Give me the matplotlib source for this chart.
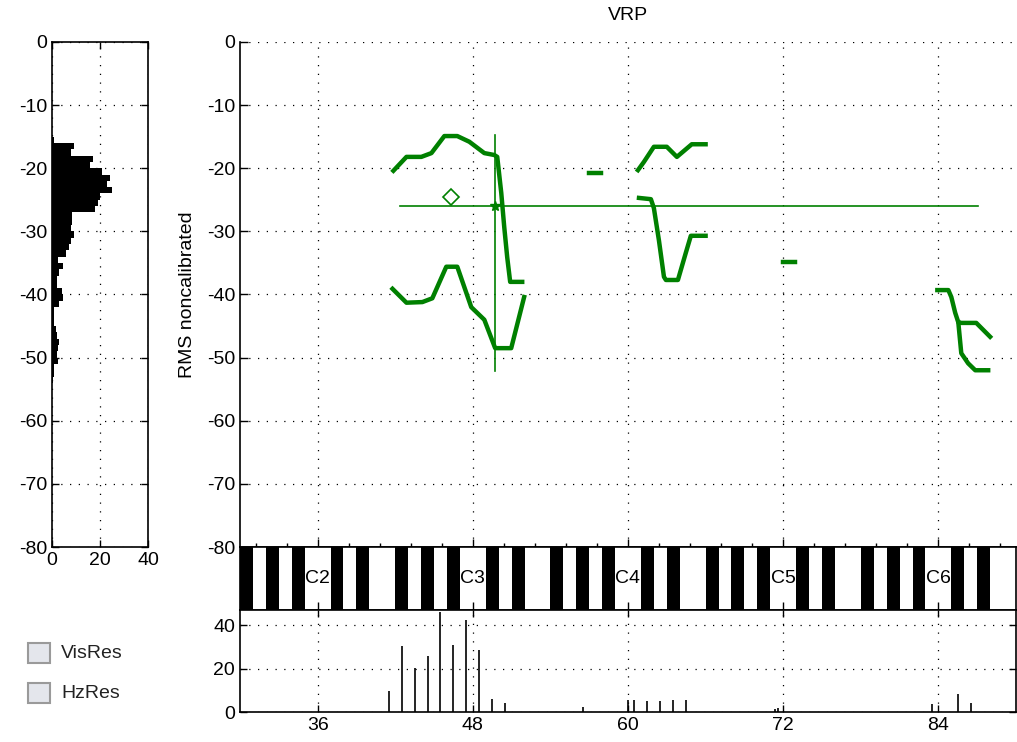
import numpy as np
import matplotlib.pyplot as plt
from matplotlib.ticker import MultipleLocator

plt.rcParams['font.family'] = ['Liberation Sans', 'DejaVu Sans']
plt.rcParams['font.size'] = 14
plt.rcParams['axes.unicode_minus'] = False

# level histogram (left panel), 1 dB bins, top edge of each bin
lvl_top = np.arange(-15, -54, -1)
lvl_count = [1, 9, 8, 17, 16, 21, 24, 23, 25, 20, 19, 18, 8.5, 8.5, 8, 9, 8, 7, 6,
             2.5, 4.5, 3, 2, 2, 4, 4.5, 3, 1, 1, 1, 1.5, 2, 3, 2.5, 2, 2.5, 1, 1, 0.5]

# VRP contours (semitone, dB)
up1_x = [41.86, 42.87, 44.02, 44.80, 45.80, 46.80, 47.73, 48.89, 49.66, 49.89, 50.20, 50.43, 50.66, 50.89, 51.82]
up1_y = [-20.4, -18.2, -18.2, -17.6, -14.9, -14.9, -15.8, -17.6, -17.9, -18.2, -23.9, -29.3, -34.1, -38.0, -38.0]
lo1_x = [41.79, 42.87, 44.10, 44.87, 45.95, 46.80, 47.88, 48.89, 49.73, 50.97, 51.97]
lo1_y = [-39.1, -41.3, -41.2, -40.6, -35.6, -35.6, -42.0, -44.0, -48.5, -48.5, -40.4]
dash1_x = [57.0, 57.9]
dash1_y = [-20.7, -20.7]
up2_x = [60.77, 61.23, 62.0, 63.0, 63.78, 64.93, 66.0]
up2_y = [-20.3, -19.0, -16.6, -16.6, -18.2, -16.2, -16.2]
lo2_x = [60.85, 61.77, 62.0, 62.39, 62.78, 62.93, 63.86, 64.47, 64.86, 66.0]
lo2_y = [-24.7, -24.9, -26.3, -31.4, -37.2, -37.7, -37.7, -33.4, -30.7, -30.7]
dash2_x = [72.0, 72.9]
dash2_y = [-34.9, -34.9]
up3_x = [83.92, 84.77, 85.0, 85.3, 85.54, 85.77, 86.93, 88.0]
up3_y = [-39.3, -39.3, -40.4, -42.9, -44.4, -44.5, -44.5, -46.7]
lo3_x = [85.54, 85.77, 86.3, 86.85, 87.85]
lo3_y = [-44.4, -49.3, -50.9, -52.0, -52.0]

# cursor and marker
cur_x, cur_y = 49.7, -26.0
cur_hx = [42.4, 87.1]
cur_vy = [-14.7, -52.1]
mark_x, mark_y = 46.3, -24.6

# pitch histogram (bottom panel)
pitch_x = [41.5, 42.5, 43.5, 44.5, 45.5, 46.5, 47.5, 48.5, 49.5, 50.5, 56.5,
           60.0, 60.5, 61.5, 62.5, 63.5, 64.5, 71.4, 71.6, 83.5, 85.5, 86.5]
pitch_n = [9.7, 30.2, 20.4, 25.8, 46.0, 31.1, 42.6, 28.4, 6.1, 4.3, 2.3,
           5.4, 5.4, 5.0, 5.0, 5.4, 5.4, 1.5, 2.0, 3.6, 8.3, 4.3]

black_keys = [n for n in range(30, 90) if n % 12 in (1, 3, 6, 8, 10)]
c_notes = [36, 48, 60, 72, 84]
c_names = ['C2', 'C3', 'C4', 'C5', 'C6']

green = '#008000'
dots = (0, (1, 6))

fig = plt.figure(figsize=(10.17, 7.42), dpi=100)

def box_ticks(ax):
    ax.tick_params(direction='in', length=5, width=1, top=True, right=True)
    ax.grid(True, color='black', linestyle=dots, linewidth=0.9)
    for s in ax.spines.values():
        s.set_linewidth(1.2)

# left histogram
axh = fig.add_axes([0.0511, 0.2628, 0.0944, 0.6806])
axh.barh(lvl_top, lvl_count, height=-1, align='edge', color='black')
axh.set_xlim(0, 40)
axh.set_ylim(-80, 0)
axh.set_xticks([0, 20, 40])
axh.set_yticks(np.arange(-80, 1, 10))
box_ticks(axh)

# main VRP axes
ax = fig.add_axes([0.236, 0.2628, 0.763, 0.6806])
for xs, ys in [(up1_x, up1_y), (lo1_x, lo1_y), (dash1_x, dash1_y), (up2_x, up2_y),
               (lo2_x, lo2_y), (dash2_x, dash2_y), (up3_x, up3_y), (lo3_x, lo3_y)]:
    ax.plot(xs, ys, color=green, lw=3.2)
ax.plot(cur_hx, [cur_y, cur_y], color=green, lw=1.2)
ax.plot([cur_x, cur_x], cur_vy, color=green, lw=1.2)
ax.plot(cur_x, cur_y, marker='*', color=green, ms=7)
ax.plot(mark_x, mark_y, marker='D', mfc='white', mec=green, ms=8, mew=1.2)
ax.set_xlim(30, 90)
ax.set_ylim(-80, 0)
ax.set_xticks(c_notes)
ax.xaxis.set_minor_locator(MultipleLocator(2.4))
ax.set_yticks(np.arange(-80, 1, 10))
ax.tick_params(direction='in', length=6, width=1, labelbottom=False)
ax.tick_params(which='minor', direction='in', length=3, width=1)
ax.grid(True, color='black', linestyle=dots, linewidth=0.9)
ax.spines['top'].set_visible(False)
ax.spines['right'].set_visible(False)
ax.spines['left'].set_linewidth(1.2)
ax.spines['bottom'].set_linewidth(1.2)
ax.set_title('VRP', fontsize=14, pad=16)
ax.set_ylabel('RMS noncalibrated', labelpad=8)

# keyboard strip
axk = fig.add_axes([0.236, 0.1779, 0.763, 0.0849])
axk.bar(black_keys, 1, width=1, align='edge', bottom=0, color='black')
for n, name in zip(c_notes, c_names):
    axk.text(n, 0.5, name, ha='center', va='center', fontsize=14)
axk.set_xlim(30, 90)
axk.set_ylim(0, 1)
axk.set_xticks(c_notes)
axk.set_yticks([])
axk.tick_params(direction='in', length=6, width=1, labelbottom=False)
for s in axk.spines.values():
    s.set_linewidth(1.2)

# pitch histogram
axp = fig.add_axes([0.236, 0.0404, 0.763, 0.1375])
axp.vlines(pitch_x, 0, pitch_n, color='black', lw=1.2)
axp.set_xlim(30, 90)
axp.set_ylim(0, 47)
axp.set_xticks(c_notes)
axp.set_yticks([0, 20, 40])
box_ticks(axp)

# check boxes
for yy, lab in [(0.119, 'VisRes'), (0.065, 'HzRes')]:
    fig.patches.append(plt.Rectangle((0.028, yy - 0.013), 0.021, 0.027, transform=fig.transFigure,
                                     facecolor='#e4e6ec', edgecolor='#9a9a9a', lw=1.5))
    fig.text(0.06, yy, lab, ha='left', va='center', fontsize=14, color='#222222')

fig.savefig('out.png', dpi=100)
